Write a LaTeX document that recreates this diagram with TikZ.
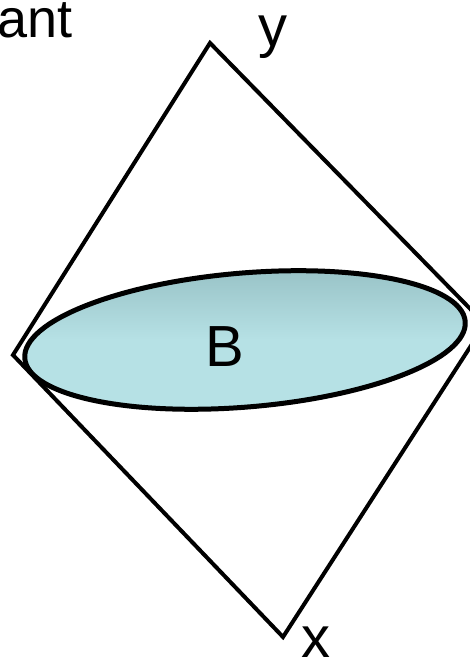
\documentclass[tikz,border=0pt]{standalone}
\usepackage{fontspec}
\setmainfont{Liberation Sans}
\definecolor{btop}{RGB}{150,192,196}
\definecolor{bmid}{RGB}{182,225,229}
\begin{document}
\begin{tikzpicture}[x=1pt,y=1pt,
  edge/.style={line width=4pt,line join=miter},
  lbl/.style={inner sep=0pt,font=\fontsize{58}{60}\selectfont}]
\useasboundingbox (0,0) rectangle (470,661);
\clip (0,0) rectangle (470,661);
\coordinate (T) at (210,618);
\coordinate (R) at (485,337);
\coordinate (Bo) at (283,24);
\coordinate (L) at (13,306);
\draw[edge] (T) -- (R) -- (Bo) -- (L) -- cycle;
\shade[top color=btop,bottom color=bmid,middle color=bmid,rotate around={4.8:(245,321)}]
  (245,321) ellipse [x radius=221, y radius=67];
\draw[line width=5pt,rotate around={4.8:(245,321)}]
  (245,321) ellipse [x radius=221, y radius=67];
\node[lbl,anchor=base] (b) at (225,294) {B};
\node[lbl,anchor=base] (y) at (273,614) {y};
\node[lbl,anchor=base] (xl) at (316,4) {x};
\node[lbl,anchor=base east,font=\fontsize{54}{56}\selectfont] (ant) at (73,623) {ant};
\end{tikzpicture}
\end{document}
